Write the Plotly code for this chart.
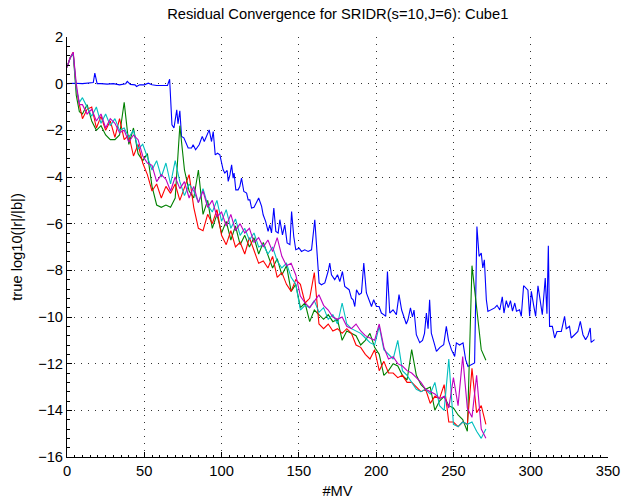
import plotly.graph_objects as go

# ---------------- data ----------------
mv_bundle = [0, 2, 4, 6, 8, 10, 13, 16, 19, 22, 25, 28, 31, 34, 37, 40, 43, 46, 49, 52, 55, 58, 61, 64, 67,
             70, 73, 76, 79, 82, 85, 88, 91, 94, 97, 100, 103, 106, 109, 112, 115, 118, 121, 124, 127,
             130, 133, 136, 139, 142, 145, 148, 151, 154, 157, 160, 163, 166, 169, 172, 175, 178, 181, 184, 187,
             190, 193, 196, 199, 202, 205, 208, 211, 214, 217, 220, 223, 226, 229, 232, 235, 238, 241, 244, 247,
             250, 253, 256, 259, 262, 265, 268, 271]

res_green = [0.7, 1.1, 1.3, -0.5, -1.2,
             -1.3, -0.9, -1.6, -2.0, -1.8, -2.2, -2.4, -2.4, -2.2, -0.8,
             -2.6, -1.9, -3.0, -3.3, -3.0, -4.4, -5.2, -5.3, -5.2, -5.3,
             -4.9, -1.8, -3.7, -4.6, -4.9, -3.7, -5.6, -5.0, -6.2, -5.6,
             -6.4, -5.9, -6.7, -6.1, -6.9, -6.5, -7.0, -6.6, -7.3, -6.8,
             -7.4, -7.9, -7.5, -8.2, -7.8, -8.9, -8.6, -9.6, -9.4, -10.2,
             -9.7, -9.9, -10.1, -9.9, -10.2, -10.1, -11.0, -10.6, -10.7, -10.8,
             -11.2, -11.0, -10.7, -11.3, -11.6, -12.5, -12.3, -12.0, -12.1, -12.5,
             -12.7, -11.4, -12.5, -12.9, -13.1, -13.0, -14.0, -13.6, -13.4, -13.8,
             -13.9, -14.2, -14.4, -14.9, -7.8, -9.6, -11.4,
             -11.85]

res_red = [0.7, 1.1, 1.35, -0.2, -0.9,
           -1.5, -1.1, -1.0, -1.9, -1.4, -2.0, -1.6, -2.3, -1.5, -2.4,
           -2.2, -3.1, -2.6, -3.4, -3.9, -4.6, -4.3, -4.9, -4.4, -4.7,
           -4.3, -5.0, -4.4, -3.9, -5.3, -6.2, -6.3, -5.6, -6.0, -5.4,
           -6.5, -6.9, -6.3, -7.0, -6.8, -7.3, -6.6, -7.2, -7.7, -7.6,
           -7.9, -7.4, -8.3, -8.1, -8.6, -8.9, -8.4, -8.6, -9.4, -9.2,
           -8.1, -10.3, -10.5, -10.3, -10.6, -10.5, -10.7, -10.5, -10.7, -11.2,
           -11.3, -11.6, -11.8, -11.4, -12.3, -11.9, -12.4, -12.4, -12.6, -12.5,
           -12.8, -12.8, -13.0, -13.2, -13.1, -13.7, -13.4, -13.5, -12.9, -14.5,
           -14.5, -14.7, -14.5, -14.6, -12.2, -14.1, -13.8,
           -14.6]

res_cyan = [0.7, 1.1, 1.3, -0.2, -0.8,
            -0.6, -1.0, -1.4, -1.0, -1.7, -1.3, -1.8, -1.5, -2.0, -1.9,
            -2.3, -2.0, -2.8, -2.6, -3.2, -3.7, -3.3, -4.0, -3.4, -4.3,
            -3.3, -4.2, -4.8, -4.3, -4.6, -5.1, -4.5, -5.2, -5.5, -5.0,
            -5.9, -5.4, -6.2, -5.8, -6.5, -6.2, -6.7, -6.4, -7.0, -6.9,
            -7.3, -7.0, -7.6, -7.9, -7.7, -8.3, -8.6, -9.7, -9.5, -9.6,
            -9.3, -9.8, -9.6, -10.1, -9.9, -10.3, -9.4, -10.3, -10.5, -10.6,
            -10.7, -10.9, -11.1, -11.2, -10.4, -11.4, -11.6, -11.8, -11.0, -12.3,
            -12.5, -12.8, -13.1, -13.2, -13.1, -13.3, -12.8, -13.8, -14.0, -11.8,
            -14.6, -14.7, -14.5, -14.6, -14.5, -14.9, -15.2,
            -14.8]

res_magenta = [0.7, 1.1, 1.35, 0.0, -0.9,
               -0.9, -1.3, -1.1, -1.6, -1.3, -1.9, -1.5, -1.7, -2.1, -2.0,
               -2.5, -2.2, -2.4, -3.1, -3.4, -3.5, -4.2, -3.9, -4.1, -4.6,
               -4.0, -4.5, -4.2, -4.9, -4.4, -5.1, -4.6, -5.3, -5.0, -5.7,
               -5.5, -6.1, -5.6, -6.3, -6.0, -6.4, -6.2, -6.8, -6.6, -7.0,
               -6.7, -7.2, -6.6, -7.4, -7.8, -7.7, -8.2, -9.1, -9.4, -9.6,
               -9.3, -9.05, -9.5, -9.7, -10.0, -10.1, -10.0, -10.4, -10.5, -10.3,
               -10.6, -10.8, -10.9, -11.0, -10.3, -11.3, -11.8, -11.7, -12.0, -12.1,
               -12.3, -12.4, -12.6, -12.8, -13.1, -13.2, -13.3, -13.5, -13.4, -13.9,
               -12.6, -13.8, -11.7, -13.9, -14.3, -12.5, -14.8,
               -15.2]

mv_blue = [0, 5, 10, 15, 17, 18, 19.5, 22, 26, 30, 34, 38, 39, 41, 44, 45, 47, 50, 52.6, 55, 58, 62, 65,
           66.4, 67.9, 69.2, 70.3, 71, 71.8, 73, 74.1, 75.6, 78.4, 80.6, 81.6, 83.2, 85.5, 87.5, 88.8,
           90.3, 92, 93.5, 94.6, 95.9, 97.4, 98.9, 100, 101, 102.1, 103.6, 104.3, 105.4, 106.5, 107.5,
           108.1, 109.2, 110.7, 111.8, 112.9, 114.4, 116.2, 117.2, 118.3, 119.4, 121, 122.5, 124, 125.9,
           126.9, 128.5, 130.1, 131.2, 132.3, 133.8, 135.1, 136.6, 137.7, 139.4, 140.9, 142.4, 144.2,
           145.3, 146.7, 148, 150.2, 151.7, 153.8, 156, 158.2, 160.3, 161.8, 163.1, 164.6, 166.8, 168.9,
           170, 171.1, 173.2, 175, 176.5, 178.2, 179.7, 182.5, 184, 185.1, 186.2, 187.3, 189, 190.5, 192,
           193.7, 195.4, 197, 198.4, 200.2, 201.9, 203.4, 204.9, 206.2, 207.3, 208.8, 210.9, 213.1, 214.8,
           216.5, 218, 219.5, 220.6, 222.2, 223.5, 224.5, 226, 228.2, 230, 231.3, 232.5, 233.6, 234.6,
           235.7, 237.5, 239, 241.3, 243.7, 245.4, 246.8, 248.7, 250.8, 251.9, 254, 256.2, 257.9, 259.4,
           261.6, 263.7, 265.2, 266.6, 268, 269, 270, 271.3, 272.3, 274.5, 276.7, 278.2, 280, 281.6,
           282.7, 284.2, 285.5, 286.9, 288.2, 289.7, 290.8, 292.8, 293.9, 295.4, 297.1, 298.2, 299.3,
           300.4, 301.9, 303.2, 304.7, 305.8, 307.5, 309.4, 310.5, 311.4, 312.2, 314, 315.5, 317, 319.8,
           321.9, 323, 325.1, 326.2, 328.4, 330.5, 332.1, 333.8, 335.5, 337, 338.5, 339.1, 341.3]

res_blue = [0.0, 0.02, 0.0, 0.02, 0.05, 0.45, 0.0, 0.0, -0.02, 0.0, -0.05, 0.0, 0.1, -0.03, -0.05, -0.12,
            -0.05, -0.05, 0.02, -0.05, -0.08, -0.08, -0.08,
            0.19, -1.76, -1.9, -1.52, -1.12, -1.72, -1.16, -2.26, -2.32, -2.76, -2.76, -2.62, -2.83, -2.62,
            -2.26, -2.48,
            -2.26, -1.98, -2.48, -2.05, -3.05, -2.98, -3.05, -3.48, -3.69, -3.83, -3.72, -4.19, -3.91, -3.48,
            -4.05,
            -3.83, -4.55, -4.55, -4.41, -4.05, -4.62, -4.69, -4.98, -4.98, -5.33, -5.3, -5.1, -4.9, -5.26,
            -5.62, -5.9, -6.33, -6.05, -6.4, -5.33, -6.33, -6.4, -5.83, -6.48, -6.05, -6.83, -6.9,
            -5.48, -6.55, -7.12, -7.05, -7.19, -7.12, -7.19, -7.12, -5.83, -7.55, -8.54, -8.62, -8.54, -8.05,
            -7.69, -8.19, -8.4, -8.19, -8.48, -8.05, -8.69, -8.83, -9.19, -9.26, -9.55, -8.83, -9.04, -8.97,
            -7.69,
            -8.97, -9.26, -9.55, -9.26, -9.55, -9.55, -9.83, -9.9, -9.97, -8.05, -9.83, -9.69, -9.9, -9.04,
            -9.7, -10.0, -10.3, -10.12, -9.61, -10.0, -9.7, -10.76, -11.1, -11.0, -10.7, -9.83, -10.5,
            -9.26,
            -10.69, -11.11, -11.47, -11.3, -11.19, -10.4, -11.0, -11.4, -11.69, -11.11, -11.2, -11.11,
            -11.83, -12.12,
            -12.05, -11.97, -6.12, -7.4, -7.26, -7.9, -7.55, -9.26, -9.76, -9.7, -9.61, -9.5, -9.7, -9.14,
            -9.83, -9.3, -9.6, -9.3, -9.75, -9.4, -9.75, -9.69, -9.97, -8.66, -8.78, -8.85, -9.97,
            -8.9, -9.5, -9.97, -8.66, -9.2, -9.9, -8.33, -9.86, -6.95, -10.4, -10.4, -10.9, -10.62, -10.62,
            -9.97, -10.5, -10.4, -10.9, -10.76, -10.62, -10.19, -10.76, -10.97, -10.8, -10.47, -11.09, -10.97]

x_ticks = [0, 50, 100, 150, 200, 250, 300, 350]
y_ticks = [2, 0, -2, -4, -6, -8, -10, -12, -14, -16]

title_text = "Residual Convergence for SRIDR(s=10,J=6): Cube1"
x_label = "#MV"
y_label = "true log10(|r|/|b|)"

# ---------------- figure ----------------
series = [
    (mv_blue, res_blue, "#0000FF"),
    (mv_bundle, res_green, "#008000"),
    (mv_bundle, res_red, "#FF0000"),
    (mv_bundle, res_cyan, "#00BFBF"),
    (mv_bundle, res_magenta, "#BF00BF"),
]

fig = go.Figure()
for xs, ys, col in series:
    fig.add_trace(go.Scatter(x=xs, y=ys, mode="lines",
                             line=dict(color=col, width=1.1),
                             showlegend=False, hoverinfo="skip"))

font_family = "Liberation Sans, Arial, Helvetica, sans-serif"
FS = 14.7
axis_common = dict(
    showline=True, linecolor="black", linewidth=1, mirror=False,
    ticks="inside", ticklen=5, tickwidth=1, tickcolor="black",
    showgrid=True, gridcolor="#333333", gridwidth=1, griddash="1px,6px",
    zeroline=False, tickfont=dict(family=font_family, size=FS, color="black"),
    automargin=False,
)

W, H = 623, 500
fig.update_layout(
    width=W, height=H,
    margin=dict(l=67, r=14.5, t=37, b=42.6),
    paper_bgcolor="white", plot_bgcolor="white",
    font=dict(family=font_family, size=FS, color="black"),
    hovermode=False,
    title=dict(text=title_text, x=(67 + 608.5) / 2 / W, xanchor="center",
               y=1 - 14 / H, yanchor="middle", yref="container",
               font=dict(family=font_family, size=FS, color="black")),
    xaxis=dict(range=[0, 350], tickmode="array", tickvals=x_ticks,
               ticktext=[str(v) for v in x_ticks],
               minor=dict(ticks="inside", dtick=5, tick0=0, ticklen=2.5, tickcolor="black", showgrid=False),
               title=dict(text=x_label, standoff=8, font=dict(family=font_family, size=FS)),
               **axis_common),
    yaxis=dict(range=[-16, 2], tickmode="array", tickvals=y_ticks,
               ticktext=[("\u2212" + str(-v)) if v < 0 else str(v) for v in y_ticks],
               minor=dict(ticks="inside", dtick=0.4, tick0=0, ticklen=2.5, tickcolor="black", showgrid=False),
               title=dict(text=y_label, standoff=11, font=dict(family=font_family, size=FS)),
               **axis_common),
)

# remove the default page margin so the figure fills the window exactly
fig.write_html("out.html",
               config={"displayModeBar": False, "staticPlot": True},
               post_script="document.body.style.margin='0';document.body.style.overflow='hidden';")
